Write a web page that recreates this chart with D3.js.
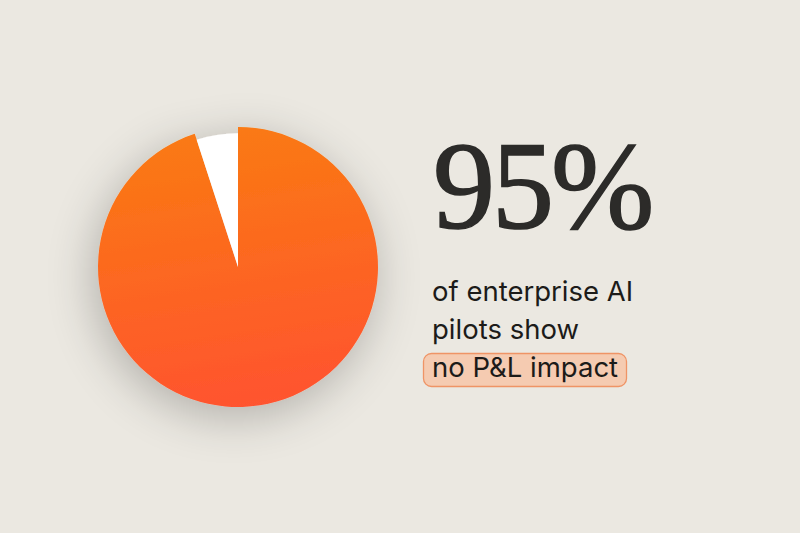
<!DOCTYPE html>
<html><head><meta charset="utf-8">
<script src="https://cdn.jsdelivr.net/npm/d3@7"></script>
<style>html,body{margin:0;padding:0;background:#ebe8e1;}svg{display:block;}</style>
</head><body>
<svg id="c" width="800" height="533"></svg>
<script>
const categories = ["no P&L impact", "measurable impact"];
const values = [95, 5];
const headline = "95%";
const captionLines = ["of enterprise AI", "pilots show", "no P&L impact"];

const svg = d3.select("#c");
svg.append("rect").attr("width",800).attr("height",533).attr("fill","#ebe8e1");
const defs = svg.append("defs");
const g1 = defs.append("linearGradient").attr("id","og").attr("x1","0.45").attr("y1","0").attr("x2","0.6").attr("y2","1");
g1.append("stop").attr("offset","0").attr("stop-color","#fa7a12");
g1.append("stop").attr("offset","1").attr("stop-color","#ff5330");
const f = defs.append("filter").attr("id","sh").attr("x","-50%").attr("y","-50%").attr("width","200%").attr("height","200%");
f.append("feGaussianBlur").attr("in","SourceAlpha").attr("stdDeviation",24);
f.append("feOffset").attr("dx",-4).attr("dy",10).attr("result","b");
f.append("feComponentTransfer").append("feFuncA").attr("type","linear").attr("slope",0.25);
const m = f.append("feMerge"); m.append("feMergeNode"); m.append("feMergeNode").attr("in","SourceGraphic");

const cx = 238, cy = 267, R = 140;
const pie = d3.pie().sort(null)(values);
const arcs = svg.append("g").attr("transform",`translate(${cx},${cy})`);
const sh = arcs.append("g").attr("filter","url(#sh)");
sh.selectAll("path").data(pie).join("path")
  .attr("d", (d,i) => d3.arc().innerRadius(0).outerRadius(i===0 ? R : R*0.955)(d))
  .attr("fill", (d,i) => i===0 ? "url(#og)" : "#ffffff");

svg.append("text").attr("x",433).attr("y",228)
  .attr("font-family","'Liberation Serif', serif").attr("font-size",124)
  .attr("letter-spacing",-3).attr("fill","#2c2b29")
  .attr("stroke","#2c2b29").attr("stroke-width",1.6).text(headline);

const ys = [301, 339, 377];
const tx = 432;
svg.append("rect").attr("x",423.5).attr("y",353.5).attr("width",203).attr("height",33).attr("rx",8)
  .attr("fill","#f5cbb1").attr("stroke","#ef9466").attr("stroke-width",1.3);
captionLines.forEach((t,i)=>{
  svg.append("text").attr("x",tx).attr("y",ys[i]).attr("font-family","Inter, sans-serif")
    .attr("font-size",27.5).attr("fill","#1c1b19").text(t);
});
</script>
</body></html>
